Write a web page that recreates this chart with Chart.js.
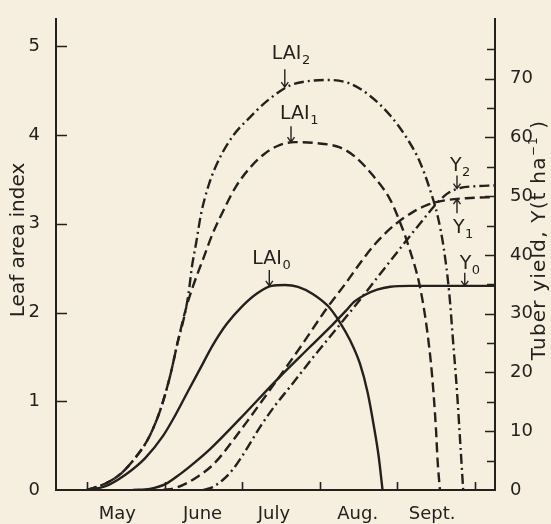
<!DOCTYPE html>
<html>
<head>
<meta charset="utf-8">
<title>Leaf area index and tuber yield</title>
<script src="https://cdn.jsdelivr.net/npm/chart.js@4.4.0/dist/chart.umd.min.js"></script>
<style>
  html, body { margin: 0; padding: 0; background: #f6efdf; }
  #growthChart { display: block; background: #f6efdf; }
</style>
</head>
<body>
<canvas id="growthChart" width="551" height="524"></canvas>
<script>
// ===== AXES =====
// x runs in months, 0 = 1 May
const monthStarts = [0, 1, 2, 3, 4, 5];
const monthNames = ["May", "June", "July", "Aug.", "Sept."];
const monthLabelAt = [0.39, 1.49, 2.41, 3.49, 4.45];
const laiTicks = [0, 1, 2, 3, 4, 5];
const yieldTicks = [0, 10, 20, 30, 40, 50, 60, 70];
const yieldMinorTicks = [5, 15, 25, 35, 45, 55, 65, 75];

// ===== LEAF AREA INDEX =====
const lai0Month = [0, 0.23, 0.49, 0.75, 0.98, 1.13, 1.30, 1.46, 1.62, 1.80, 2.00, 2.20, 2.38, 2.55, 2.72, 2.91, 3.11, 3.26, 3.39, 3.52, 3.62, 3.70, 3.76, 3.81];
const lai0Value = [0, 0.04, 0.17, 0.36, 0.61, 0.83, 1.11, 1.37, 1.63, 1.87, 2.07, 2.22, 2.30, 2.31, 2.29, 2.21, 2.07, 1.89, 1.69, 1.42, 1.09, 0.71, 0.38, 0];

const lai1Month = [0, 0.23, 0.43, 0.62, 0.79, 0.94, 1.07, 1.17, 1.28, 1.38, 1.50, 1.62, 1.77, 1.92, 2.10, 2.29, 2.49, 2.68, 2.94, 3.26, 3.45, 3.69, 3.91, 4.03, 4.16, 4.29, 4.38, 4.45, 4.50, 4.52, 4.55];
const lai1Value = [0, 0.07, 0.18, 0.36, 0.58, 0.89, 1.28, 1.67, 2.06, 2.33, 2.61, 2.89, 3.17, 3.42, 3.63, 3.79, 3.89, 3.92, 3.91, 3.86, 3.76, 3.54, 3.27, 3.03, 2.71, 2.30, 1.83, 1.28, 0.67, 0.33, 0];

const lai2Month = [0, 0.23, 0.43, 0.62, 0.79, 0.94, 1.07, 1.17, 1.25, 1.31, 1.35, 1.41, 1.47, 1.57, 1.71, 1.89, 2.10, 2.33, 2.62, 2.87, 3.13, 3.39, 3.65, 3.91, 4.12, 4.29, 4.42, 4.52, 4.60, 4.67, 4.72, 4.77, 4.81, 4.85];
const lai2Value = [0, 0.07, 0.18, 0.36, 0.58, 0.89, 1.28, 1.67, 1.94, 2.22, 2.50, 2.80, 3.11, 3.44, 3.74, 4.00, 4.20, 4.39, 4.56, 4.61, 4.62, 4.58, 4.44, 4.22, 3.97, 3.70, 3.39, 3.09, 2.72, 2.22, 1.67, 1.11, 0.56, 0];

// ===== TUBER YIELD (t/ha) =====
const y0Month = [0.59, 0.81, 1.01, 1.20, 1.39, 1.59, 1.97, 2.45, 2.87, 3.17, 3.33, 3.45, 3.58, 3.74, 3.91, 4.16, 5.26];
const y0Value = [0, 0.2, 1.0, 2.7, 4.7, 7.0, 12.1, 18.8, 24.3, 28.2, 30.4, 32.1, 33.2, 34.1, 34.6, 34.75, 34.75];

const y1Month = [0.98, 1.13, 1.29, 1.44, 1.60, 1.74, 1.88, 2.06, 2.40, 2.75, 3.09, 3.33, 3.52, 3.69, 3.87, 4.03, 4.20, 4.38, 4.64, 4.94, 5.26];
const y1Value = [0, 0.3, 1.2, 2.4, 4.0, 6.0, 8.4, 11.6, 17.8, 24.3, 30.9, 35.1, 38.6, 41.5, 44.0, 45.8, 47.3, 48.5, 49.35, 49.7, 49.85];

const y2Month = [1.50, 1.62, 1.75, 1.88, 2.04, 2.23, 2.42, 2.62, 2.91, 3.22, 3.52, 3.84, 4.12, 4.32, 4.49, 4.64, 4.81, 5.0, 5.26];
const y2Value = [0, 0.5, 1.7, 3.5, 6.6, 10.7, 14.3, 17.6, 22.5, 27.5, 32.4, 37.8, 42.5, 45.8, 48.5, 50.4, 51.4, 51.7, 51.85];

const ink = "#24211d";
const font = "'DejaVu Sans', sans-serif";

function toPoints(xs, ys) {
    return xs.map((x, i) => ({ x: x, y: ys[i] }));
}

function series(xs, ys, axis, dash) {
    return {
        data: toPoints(xs, ys),
        yAxisID: axis,
        borderColor: ink,
        borderWidth: 2.4,
        borderDash: dash,
        pointRadius: 0,
        cubicInterpolationMode: "monotone",
        fill: false
    };
}

const dashed = [10, 5];
const dashDot = [10, 4, 2, 4];

// ===== CURVE LABELS (arrow tip in data units, text offset in px) =====
const curveLabels = [
    { main: "LAI", sub: "2", axis: "yL", x: 2.55, y: 4.54, dx: -13, dy: -28, len: 18, up: false },
    { main: "LAI", sub: "1", axis: "yL", x: 2.63, y: 3.92, dx: -11, dy: -23, len: 16, up: false },
    { main: "LAI", sub: "0", axis: "yL", x: 2.35, y: 2.30, dx: -17, dy: -22, len: 16, up: false },
    { main: "Y", sub: "2", axis: "yR", x: 4.77, y: 51.3, dx: -7, dy: -18, len: 13, up: false },
    { main: "Y", sub: "1", axis: "yR", x: 4.77, y: 49.5, dx: -4, dy: 34, len: 14, up: true },
    { main: "Y", sub: "0", axis: "yR", x: 4.87, y: 34.75, dx: -5, dy: -17, len: 13, up: false }
];

// inward tick marks, rotated titles and curve labels
const decorations = {
    id: "decorations",
    afterDatasetsDraw(chart) {
        const ctx = chart.ctx;
        const area = chart.chartArea;
        const xs = chart.scales.x, yl = chart.scales.yL, yr = chart.scales.yR;
        ctx.save();
        ctx.strokeStyle = ink;
        ctx.fillStyle = ink;
        ctx.lineWidth = 1.6;
        ctx.lineCap = "butt";

        ctx.beginPath();
        laiTicks.forEach(v => {
            if (v === 0) return;
            const py = Math.round(yl.getPixelForValue(v)) + 0.5;
            ctx.moveTo(area.left, py);
            ctx.lineTo(area.left + 11, py);
        });
        yieldTicks.concat(yieldMinorTicks).forEach(v => {
            if (v === 0) return;
            const py = Math.round(yr.getPixelForValue(v)) + 0.5;
            const len = yieldTicks.includes(v) ? 10 : 8;
            ctx.moveTo(area.right, py);
            ctx.lineTo(area.right - len, py);
        });
        monthStarts.forEach(v => {
            const px = Math.round(xs.getPixelForValue(v)) + 0.5;
            ctx.moveTo(px, area.bottom);
            ctx.lineTo(px, area.bottom - 8);
        });
        ctx.stroke();

        // axis titles, both read bottom to top
        drawVertical(ctx, [{ t: "Leaf area index" }], 19, 240, 20, 0);
        drawVertical(ctx, [
            { t: "Tuber yield, Y(t ha" },
            { t: "\u22121", sup: true },
            { t: " )" }
        ], 540, 240, 20, 1.2);

        // labelled arrows on the curves
        ctx.lineWidth = 1.4;
        curveLabels.forEach(lab => {
            const tx = xs.getPixelForValue(lab.x);
            const ty = chart.scales[lab.axis].getPixelForValue(lab.y);
            const tail = lab.up ? ty + lab.len : ty - lab.len;
            const head = lab.up ? 5 : -5;
            ctx.beginPath();
            ctx.moveTo(tx, tail);
            ctx.lineTo(tx, ty);
            ctx.moveTo(tx - 3.5, ty + head);
            ctx.lineTo(tx, ty);
            ctx.lineTo(tx + 3.5, ty + head);
            ctx.stroke();

            ctx.textAlign = "left";
            ctx.textBaseline = "alphabetic";
            ctx.font = "19px " + font;
            const bx = tx + lab.dx, by = ty + lab.dy;
            ctx.fillText(lab.main, bx, by);
            const w = ctx.measureText(lab.main).width;
            ctx.font = "13px " + font;
            ctx.fillText(lab.sub, bx + w + 0.5, by + 5);
        });
        ctx.restore();
    }
};

function drawVertical(ctx, parts, cx, cy, size, spacing) {
    ctx.save();
    ctx.translate(cx, cy);
    ctx.rotate(-Math.PI / 2);
    ctx.textBaseline = "middle";
    ctx.textAlign = "left";
    ctx.letterSpacing = spacing + "px";
    let total = 0;
    parts.forEach(p => {
        ctx.font = (p.sup ? Math.round(size * 0.62) : size) + "px " + font;
        p.w = ctx.measureText(p.t).width;
        total += p.w;
    });
    let x = -total / 2;
    parts.forEach(p => {
        ctx.font = (p.sup ? Math.round(size * 0.62) : size) + "px " + font;
        ctx.fillText(p.t, x, p.sup ? -6 : 0);
        x += p.w;
    });
    ctx.restore();
}

const tickFont = { family: font, size: 18 };

const growthChart = new Chart(document.getElementById("growthChart"), {
    type: "line",
    data: {
        datasets: [
            series(lai0Month, lai0Value, "yL", []),
            series(lai1Month, lai1Value, "yL", dashed),
            series(lai2Month, lai2Value, "yL", dashDot),
            series(y0Month, y0Value, "yR", []),
            series(y1Month, y1Value, "yR", dashed),
            series(y2Month, y2Value, "yR", dashDot)
        ]
    },
    options: {
        responsive: false,
        animation: false,
        layout: { padding: { top: 12, left: 0, right: 0, bottom: 0 } },
        plugins: {
            legend: { display: false },
            tooltip: { enabled: false }
        },
        scales: {
            x: {
                type: "linear",
                position: "bottom",
                min: -0.4,
                max: 5.26,
                grid: { display: false },
                border: { display: true, color: ink, width: 2 },
                afterBuildTicks: s => { s.ticks = monthLabelAt.map(v => ({ value: v })); },
                afterFit: s => { s.height = 34; },
                ticks: {
                    color: ink,
                    font: tickFont,
                    padding: 6,
                    maxRotation: 0,
                    autoSkip: false,
                    callback: (v, i) => monthNames[i]
                }
            },
            yL: {
                type: "linear",
                position: "left",
                min: 0,
                max: 5.31,
                grid: { display: false },
                border: { display: true, color: ink, width: 2 },
                afterBuildTicks: s => { s.ticks = laiTicks.map(v => ({ value: v })); },
                afterFit: s => { s.width = 56; },
                ticks: { color: ink, font: tickFont, padding: 8 }
            },
            yR: {
                type: "linear",
                position: "right",
                min: 0,
                max: 80.2,
                grid: { display: false },
                border: { display: true, color: ink, width: 2 },
                afterBuildTicks: s => { s.ticks = yieldTicks.map(v => ({ value: v })); },
                afterFit: s => { s.width = 56; },
                ticks: { color: ink, font: tickFont, padding: 7 }
            }
        }
    },
    plugins: [decorations]
});
</script>
</body>
</html>
